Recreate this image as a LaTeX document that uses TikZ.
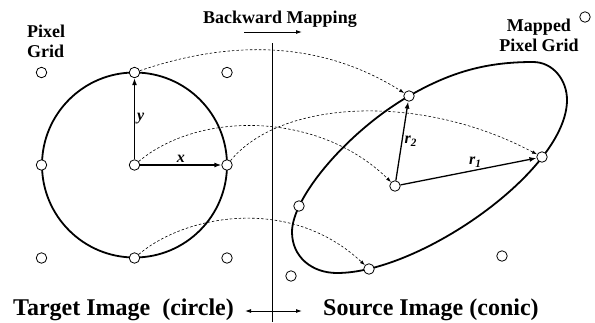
\documentclass[tikz,border=0pt]{standalone}
\usepackage{fontspec}
\setmainfont{Liberation Serif}
\usetikzlibrary{arrows.meta, positioning}
\tikzset{
  pixel/.style={circle, draw=black, fill=white, line width=0.8pt, minimum size=10.5pt, inner sep=0pt},
  outline/.style={line width=1.8pt},
  tag/.style={font=\bfseries\fontsize{18}{20}\selectfont, inner sep=0pt},
  caption/.style={font=\bfseries\fontsize{24}{26}\selectfont, inner sep=0pt},
  vlabel/.style={font=\bfseries\itshape\fontsize{16}{18}\selectfont, inner sep=2pt},
  vec/.style={-{Latex[length=7pt, width=5pt]}, line width=1.3pt},
  mapto/.style={dash pattern=on 2.5pt off 2pt, -{Latex[length=5pt, width=3.5pt]}, line width=0.6pt},
  flow/.style={-{Latex[length=6pt, width=4pt]}, line width=0.9pt},
  bothways/.style={{Latex[length=6pt, width=4pt]}-{Latex[length=6pt, width=4pt]}, line width=0.9pt},
}
\begin{document}
\begin{tikzpicture}[x=1pt, y=-1pt]
\useasboundingbox (0,0) rectangle (595,322);
\draw[outline] (134.5,165) circle [radius=92.5];
\draw[outline] (292,232) .. controls (292,197) and (348.4,131) .. (409,96)
  .. controls (452.3,71) and (488,62) .. (533,62)
  .. controls (553,62) and (567,80) .. (567,100)
  .. controls (567,170) and (420,273) .. (337,273)
  .. controls (312,273) and (292,257) .. cycle;
\node[pixel] (tl) at (41.5,72.5) {};
\node[pixel] (tc) at (134.5,72.5) {};
\node[pixel] (tr) at (227,72.5) {};
\node[pixel] (ml) at (41.5,165) {};
\node[pixel] (c) at (134.5,165) {};
\node[pixel] (mr) at (227,165) {};
\node[pixel] (bl) at (41.5,258) {};
\node[pixel] (bc) at (134.5,258) {};
\node[pixel] (br) at (227,258) {};
\node[pixel] (m-top) at (409,96) {};
\node[pixel] (m-ctr) at (395,186) {};
\node[pixel] (m-rgt) at (542,157) {};
\node[pixel] (m-lft) at (299,206) {};
\node[pixel] (m-bot) at (369,269) {};
\node[pixel] (g1) at (585,17) {};
\node[pixel] (g2) at (291,276) {};
\node[pixel] (g3) at (502,256) {};
\node[tag, align=left, anchor=north west] (pg) at (27,25) {Pixel\\Grid};
\node[tag, align=center, anchor=north] (mpg) at (539,19) {Mapped\\Pixel Grid};
\node[tag, anchor=base] (bm) at (280,23) {Backward Mapping};
\node[caption, anchor=base west] (tgt) at (13,315) {Target Image\ \ (circle)};
\node[caption, anchor=base west] (src) at (323,315) {Source Image (conic)};
\coordinate (ba) at (244,32);
\coordinate (bb) at (302,32);
\coordinate (la) at (245,311);
\coordinate (ra) at (302,311);
\coordinate (sep-top) at (272,43);
\coordinate (sep-bot) at (272,322);
\draw[line width=0.8pt] (sep-top) -- (sep-bot);
\draw[flow] (ba) -- (bb);
\draw[bothways] (la) -- (ra);
\draw[vec] (c) -- node[vlabel, right] {y} (tc);
\draw[vec] (c) -- node[vlabel, above] {x} (mr);
\draw[vec] (m-ctr) -- node[vlabel, right] {r\textsubscript{2}} (m-top);
\draw[vec] (m-ctr) -- node[vlabel, above, pos=0.55] {r\textsubscript{1}} (m-rgt);
\draw[mapto] (tc) .. controls (230,40) and (320,40) .. (m-top);
\draw[mapto] (c) .. controls (200,110) and (320,112) .. (m-ctr);
\draw[mapto] (mr) .. controls (280,100) and (420,92) .. (m-rgt);
\draw[mapto] (bc) .. controls (185,215) and (290,195) .. (m-bot);
\end{tikzpicture}
\end{document}
